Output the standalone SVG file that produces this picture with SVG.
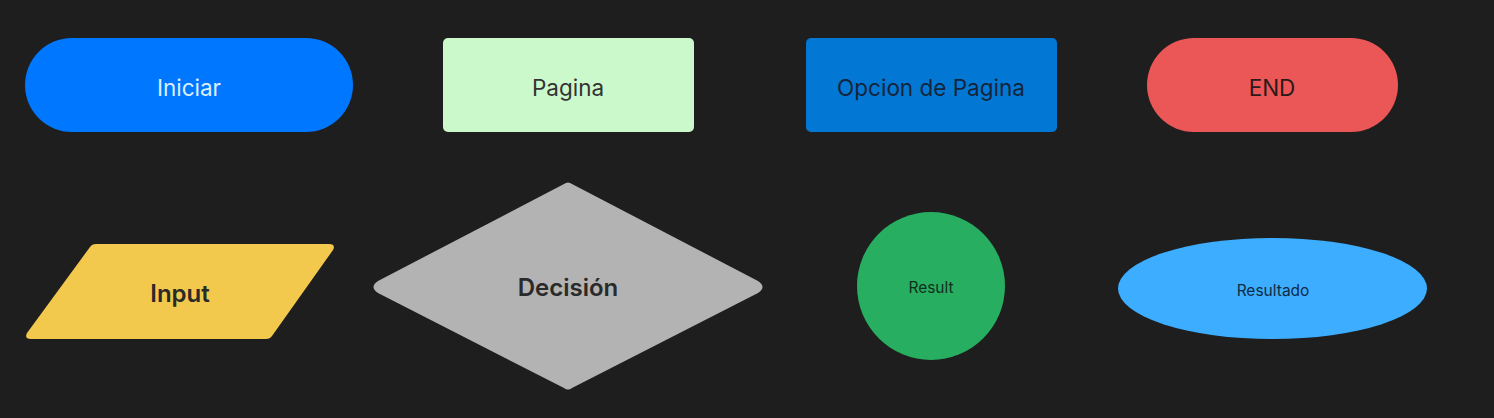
<svg xmlns="http://www.w3.org/2000/svg" width="1494" height="418" viewBox="0 0 1494 418">
<style>
text{font-family:Inter,"Noto Sans","Liberation Sans",sans-serif;text-anchor:middle;dominant-baseline:central}
.big{font-size:22.5px}
.bold{font-size:24px;font-weight:600}
.small{font-size:15.5px}
</style>
<rect width="1494" height="418" fill="#1e1e1e"/>
<g id="iniciar"><rect x="25" y="38" width="328" height="94" rx="47" fill="#0077ff"/><text class="big" x="189" y="87" fill="#dcefff">Iniciar</text></g>
<g id="pagina"><rect x="443" y="38" width="251" height="94" rx="5" fill="#ccf9cc"/><text class="big" x="568" y="87" fill="#333333">Pagina</text></g>
<g id="opcion"><rect x="806" y="38" width="251" height="94" rx="5" fill="#0278d4"/><text class="big" x="931" y="87" fill="#14243a">Opcion de Pagina</text></g>
<g id="end"><rect x="1147" y="38" width="251" height="94" rx="47" fill="#eb5757"/><text class="big" x="1272" y="87" fill="#2a1a1a">END</text></g>
<g id="input"><path d="M96,244 L329,244 Q336,244 333,250 L272,336 Q270,339 266,339 L31,339 Q24,339 27,333 L90,247 Q92,244 96,244 Z" fill="#f2c94c"/><text class="bold" x="180" y="293" fill="#2a2a2a">Input</text></g>
<g id="decision"><path d="M564,184 Q568,181 572,184 L758,281 Q767,287 758,293 L572,388 Q568,391 564,388 L378,293 Q369,287 378,281 Z" fill="#b3b3b3"/><text class="bold" x="568" y="287" fill="#2a2a2a">Decisión</text></g>
<g id="result"><circle cx="931" cy="286" r="74" fill="#27ae60"/><text class="small" x="931" y="287" fill="#10301c">Result</text></g>
<g id="resultado"><ellipse cx="1272.5" cy="288.5" rx="154.5" ry="50.5" fill="#3daeff"/><text class="small" x="1273" y="290" fill="#102a44">Resultado</text></g>
<g id="connectors"></g>
</svg>
